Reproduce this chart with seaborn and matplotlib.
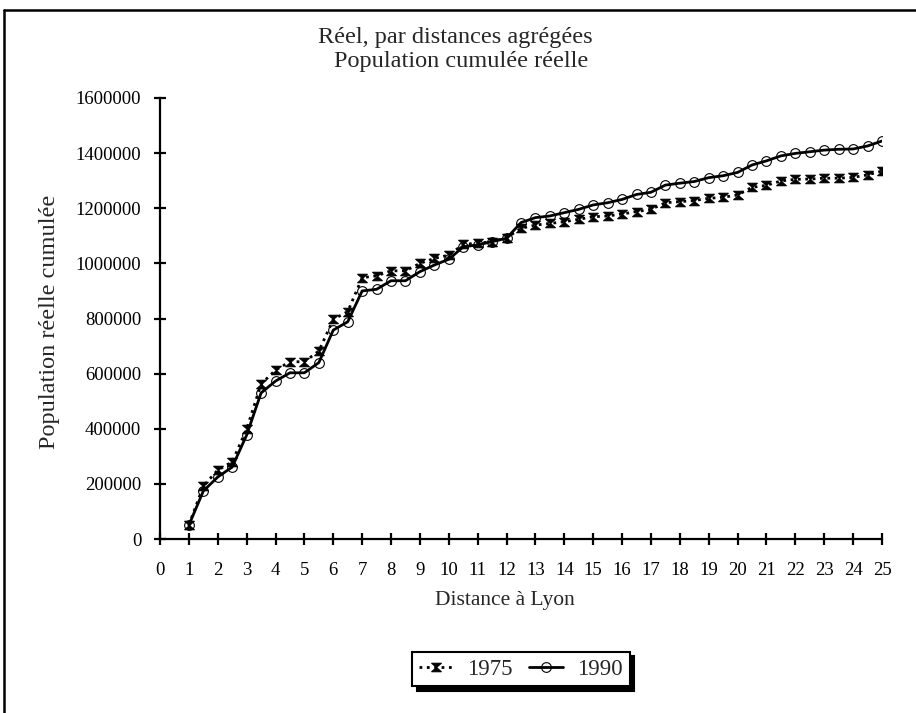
import matplotlib
matplotlib.use("Agg")
import matplotlib.pyplot as plt
from matplotlib.path import Path
from matplotlib.lines import Line2D
import pandas as pd
import seaborn as sns

distance = [1, 1.5, 2, 2.5, 3, 3.5, 4, 4.5, 5, 5.5, 6, 6.5, 7, 7.5, 8, 8.5, 9, 9.5,
            10, 10.5, 11, 11.5, 12, 12.5, 13, 13.5, 14, 14.5, 15, 15.5, 16, 16.5,
            17, 17.5, 18, 18.5, 19, 19.5, 20, 20.5, 21, 21.5, 22, 22.5, 23, 23.5,
            24, 24.5, 25]

pop_1975 = [51000, 192000, 250000, 280000, 399000, 562000, 613000, 643000, 643000,
            682000, 797000, 825000, 948000, 955000, 973000, 973000, 1000000, 1018000,
            1030000, 1069000, 1073000, 1079000, 1093000, 1127000, 1139000, 1145000,
            1151000, 1160000, 1169000, 1172000, 1179000, 1188000, 1196000, 1220000,
            1224000, 1228000, 1236000, 1240000, 1248000, 1276000, 1283000, 1299000,
            1305000, 1306000, 1309000, 1309000, 1312000, 1321000, 1335000]

pop_1990 = [50000, 174000, 225000, 261000, 377000, 530000, 573000, 603000, 603000,
            640000, 758000, 788000, 900000, 906000, 937000, 937000, 970000, 994000,
            1015000, 1060000, 1067000, 1079000, 1091000, 1148000, 1166000, 1172000,
            1184000, 1196000, 1212000, 1220000, 1232000, 1250000, 1258000, 1284000,
            1291000, 1297000, 1311000, 1318000, 1330000, 1357000, 1372000, 1390000,
            1399000, 1405000, 1411000, 1414000, 1415000, 1426000, 1444000]

x_ticks = list(range(0, 26))
y_ticks = [0, 200000, 400000, 600000, 800000, 1000000, 1200000, 1400000, 1600000]

df = pd.DataFrame({"Distance": distance, "1975": pop_1975, "1990": pop_1990})

sns.set_style("white")
plt.rcParams["font.family"] = ["Liberation Serif", "DejaVu Serif"]

# hourglass marker like the old Excel one
hourglass = Path([(-1.15, 1), (1.15, 1), (-1.15, -1), (1.15, -1), (-1.15, 1)],
                 [Path.MOVETO, Path.LINETO, Path.LINETO, Path.LINETO, Path.CLOSEPOLY])

fig = plt.figure(figsize=(9.16, 7.13), dpi=100)
ax = fig.add_axes([160 / 916, 174 / 713, 722 / 916, 441 / 713])

sns.lineplot(data=df, x="Distance", y="1975", ax=ax, color="black", linestyle=":",
             linewidth=2, marker=hourglass, markersize=7, markeredgewidth=0.8,
             markerfacecolor="black", markeredgecolor="black", label="1975")
sns.lineplot(data=df, x="Distance", y="1990", ax=ax, color="black", linestyle="-",
             linewidth=2, marker="o", markersize=7, markeredgewidth=0.8,
             markerfacecolor="none", markeredgecolor="black", label="1990")

ax.set_xlim(0, 25)
ax.set_ylim(0, 1600000)
ax.set_xticks(x_ticks)
ax.set_xticklabels([str(t) for t in x_ticks])
ax.set_yticks(y_ticks)
ax.set_yticklabels([str(t) for t in y_ticks])
ax.tick_params(axis="both", direction="inout", length=9, width=1.6, labelsize=13.5,
               colors="black", bottom=True, left=True)
ax.tick_params(axis="x", pad=12)
ax.tick_params(axis="y", pad=9)
for side in ["top", "right"]:
    ax.spines[side].set_visible(False)
for side in ["left", "bottom"]:
    ax.spines[side].set_linewidth(1.6)
    ax.spines[side].set_color("black")
ax.set_xlabel("")
ax.set_ylabel("")
ax.patch.set_alpha(0)

fig.text(455 / 916, 1 - 38 / 713, "Réel, par distances agrégées", ha="center", va="center",
         fontsize=17.5)
fig.text(461 / 916, 1 - 61 / 713, "Population cumulée réelle", ha="center", va="center",
         fontsize=17.5)
fig.text(505 / 916, 1 - 600 / 713, "Distance à Lyon", ha="center", va="center", fontsize=15.5)
fig.text(50 / 916, 1 - 322 / 713, "Population réelle cumulée", ha="center", va="center",
         rotation=90, fontsize=17.5)

leg = ax.legend(loc="center", bbox_to_anchor=(521 / 916, 1 - 669 / 713),
                bbox_transform=fig.transFigure, ncol=2, fontsize=16.5, frameon=True,
                fancybox=False, edgecolor="black", handlelength=1.5, columnspacing=0.7,
                handletextpad=0.6, borderpad=0.3,
                shadow={"color": "black", "alpha": 1, "ox": 3, "oy": -3})
leg.get_frame().set_linewidth(1.5)

# outer chart frame (top and left edges visible)
fig.add_artist(Line2D([4 / 916, 4 / 916], [0, 1 - 10 / 713], color="black", linewidth=1.8,
                      transform=fig.transFigure))
fig.add_artist(Line2D([4 / 916, 1], [1 - 10 / 713, 1 - 10 / 713], color="black",
                      linewidth=1.8, transform=fig.transFigure))

fig.savefig("out.png", dpi=100)
